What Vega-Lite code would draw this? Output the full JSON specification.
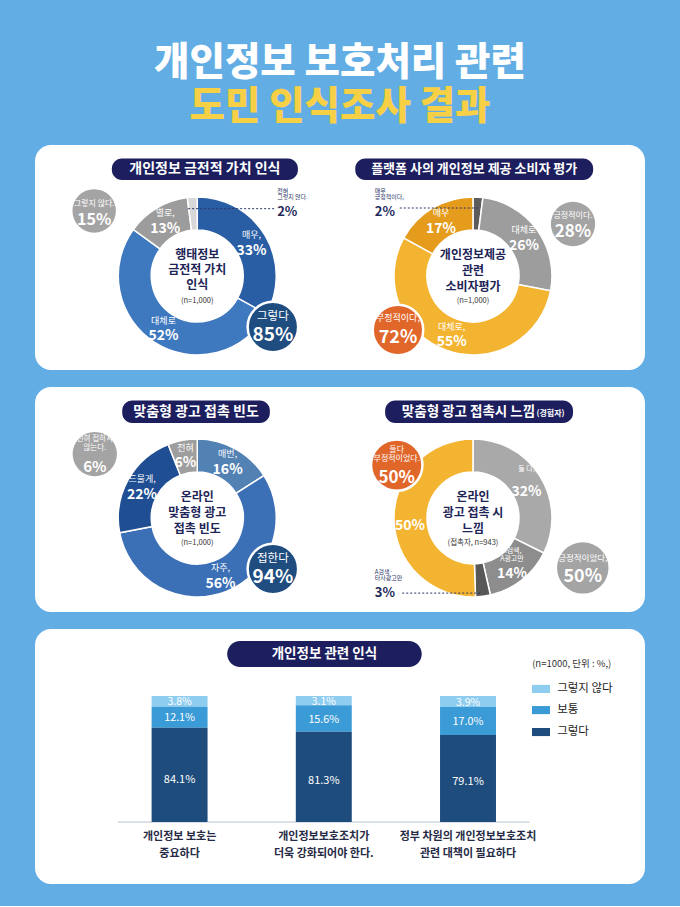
{
  "$schema": "https://vega.github.io/schema/vega-lite/v6.json",
  "background": "#62aee4",
  "padding": {"left": 35, "right": 35, "top": 44, "bottom": 22},
  "spacing": 17,
  "title": {
    "text": "개인정보 보호처리 관련",
    "subtitle": "도민 인식조사 결과",
    "anchor": "middle",
    "font": "Noto Sans CJK KR",
    "fontSize": 38.5,
    "fontWeight": 900,
    "color": "#ffffff",
    "subtitleFont": "Noto Sans CJK KR",
    "subtitleFontSize": 38.5,
    "subtitleFontWeight": 900,
    "subtitleColor": "#f7d046",
    "subtitlePadding": 5,
    "offset": 18
  },
  "config": {
    "view": {"fill": "#ffffff", "stroke": null, "cornerRadius": 16},
    "font": "Noto Sans CJK KR"
  },
  "datasets": {
    "titles": [
      {"panel": "p1", "title": "개인정보 금전적 가치 인식", "sub": ""},
      {"panel": "p2", "title": "플랫폼 사의 개인정보 제공 소비자 평가", "sub": ""},
      {"panel": "p3", "title": "맞춤형 광고 접촉 빈도", "sub": ""},
      {"panel": "p4", "title": "맞춤형 광고 접촉시 느낌", "sub": "(경험자)"},
      {"panel": "p5", "title": "개인정보 관련 인식", "sub": "(n=1000, 단위 : %,)"}
    ],
    "slices": [
      {"chart": "d1", "k": 1, "seg": "매우", "pct": 33, "label": "매우,", "txt": "33%"},
      {"chart": "d1", "k": 2, "seg": "대체로", "pct": 52, "label": "대체로", "txt": "52%"},
      {"chart": "d1", "k": 3, "seg": "별로", "pct": 13, "label": "별로,", "txt": "13%"},
      {"chart": "d1", "k": 4, "seg": "전혀", "pct": 2, "label": "", "txt": ""},
      {"chart": "d2", "k": 1, "seg": "매우 긍정적", "pct": 2, "label": "", "txt": ""},
      {"chart": "d2", "k": 2, "seg": "대체로 긍정적", "pct": 26, "label": "대체로", "txt": "26%"},
      {"chart": "d2", "k": 3, "seg": "대체로 부정적", "pct": 55, "label": "대체로,", "txt": "55%"},
      {"chart": "d2", "k": 4, "seg": "매우 부정적", "pct": 17, "label": "매우", "txt": "17%"},
      {"chart": "d3", "k": 1, "seg": "매번", "pct": 16, "label": "매번,", "txt": "16%"},
      {"chart": "d3", "k": 2, "seg": "자주", "pct": 56, "label": "자주,", "txt": "56%"},
      {"chart": "d3", "k": 3, "seg": "드물게", "pct": 22, "label": "드물게,", "txt": "22%"},
      {"chart": "d3", "k": 4, "seg": "전혀", "pct": 6, "label": "전혀", "txt": "6%"},
      {"chart": "d4", "k": 1, "seg": "둘 다", "pct": 32, "label": "둘 다,", "txt": "32%"},
      {"chart": "d4", "k": 2, "seg": "A검색, A광고만", "pct": 14, "label": "A검색,\nA광고만", "txt": "14%"},
      {"chart": "d4", "k": 3, "seg": "A검색·타사광고만", "pct": 3, "label": "", "txt": ""},
      {"chart": "d4", "k": 4, "seg": "부정적", "pct": 50, "label": "", "txt": "50%"}
    ],
    "centers": [
      {"chart": "d1", "title": "행태정보\n금전적 가치\n인식", "n": "(n=1,000)"},
      {"chart": "d2", "title": "개인정보제공\n관련\n소비자평가", "n": "(n=1,000)"},
      {"chart": "d3", "title": "온라인\n맞춤형 광고\n접촉 빈도", "n": "(n=1,000)"},
      {"chart": "d4", "title": "온라인\n광고 접촉 시\n느낌", "n": "(접촉자, n=943)"}
    ],
    "notes": [
      {"chart": "d1", "label": "전혀\n그렇지 않다.", "txt": "2%"},
      {"chart": "d2", "label": "매우\n긍정적이다,", "txt": "2%"},
      {"chart": "d4", "label": "A검색·\n타사광고만", "txt": "3%"}
    ],
    "bubbles": [
      {"id": "b1", "label": "그렇지 않다.", "txt": "15%"},
      {"id": "b2", "label": "그렇다", "txt": "85%"},
      {"id": "b3", "label": "긍정적이다.", "txt": "28%"},
      {"id": "b4", "label": "부정적이다,", "txt": "72%"},
      {"id": "b5", "label": "전혀 접하지\n않는다.", "txt": "6%"},
      {"id": "b6", "label": "접한다", "txt": "94%"},
      {"id": "b7", "label": "둘다\n부정적이었다.", "txt": "50%"},
      {"id": "b8", "label": "긍정적이었다,", "txt": "50%"}
    ],
    "cats": [
      {"resp": "그렇지 않다"},
      {"resp": "보통"},
      {"resp": "그렇다"}
    ],
    "survey": [
      {"item": "개인정보 보호는\n중요하다", "resp": "그렇지 않다", "pct": 3.8, "txt": "3.8%"},
      {"item": "개인정보 보호는\n중요하다", "resp": "보통", "pct": 12.1, "txt": "12.1%"},
      {"item": "개인정보 보호는\n중요하다", "resp": "그렇다", "pct": 84.1, "txt": "84.1%"},
      {"item": "개인정보보호조치가\n더욱 강화되어야 한다.", "resp": "그렇지 않다", "pct": 3.1, "txt": "3.1%"},
      {"item": "개인정보보호조치가\n더욱 강화되어야 한다.", "resp": "보통", "pct": 15.6, "txt": "15.6%"},
      {"item": "개인정보보호조치가\n더욱 강화되어야 한다.", "resp": "그렇다", "pct": 81.3, "txt": "81.3%"},
      {"item": "정부 차원의 개인정보보호조치\n관련 대책이 필요하다", "resp": "그렇지 않다", "pct": 3.9, "txt": "3.9%"},
      {"item": "정부 차원의 개인정보보호조치\n관련 대책이 필요하다", "resp": "보통", "pct": 17.0, "txt": "17.0%"},
      {"item": "정부 차원의 개인정보보호조치\n관련 대책이 필요하다", "resp": "그렇다", "pct": 79.1, "txt": "79.1%"}
    ]
  },
  "vconcat": [
    {
      "width": 610,
      "height": 225,
      "resolve": {"scale": {"theta": "independent", "color": "independent"}},
      "layer": [
        {
          "data": {"name": "titles"},
          "transform": [{"filter": "datum.panel === 'p1'"}],
          "layer": [
            {"mark": {"type": "rect", "cornerRadius": 10, "color": "#1c1e5e"},
             "encoding": {
               "x": {"datum": 12.6, "type": "quantitative", "scale": {"domain": [0, 100], "nice": false, "zero": false}, "axis": null},
               "x2": {"datum": 43.1},
               "y": {"datum": 94.0, "type": "quantitative", "scale": {"domain": [0, 100], "nice": false, "zero": false}, "axis": null},
               "y2": {"datum": 84.4}}},
            {"mark": {"type": "text", "color": "#ffffff", "fontSize": 14, "fontWeight": "bold"},
             "encoding": {
               "x": {"datum": 27.85, "type": "quantitative", "scale": {"domain": [0, 100], "nice": false, "zero": false}, "axis": null},
               "y": {"datum": 89.2, "type": "quantitative", "scale": {"domain": [0, 100], "nice": false, "zero": false}, "axis": null},
               "text": {"field": "title"}}}
          ]
        },
        {
          "data": {"name": "titles"},
          "transform": [{"filter": "datum.panel === 'p2'"}],
          "layer": [
            {"mark": {"type": "rect", "cornerRadius": 10, "color": "#1c1e5e"},
             "encoding": {
               "x": {"datum": 52.5, "type": "quantitative", "scale": {"domain": [0, 100], "nice": false, "zero": false}, "axis": null},
               "x2": {"datum": 91.5},
               "y": {"datum": 94.0, "type": "quantitative", "scale": {"domain": [0, 100], "nice": false, "zero": false}, "axis": null},
               "y2": {"datum": 84.4}}},
            {"mark": {"type": "text", "color": "#ffffff", "fontSize": 13, "fontWeight": "bold"},
             "encoding": {
               "x": {"datum": 72.0, "type": "quantitative", "scale": {"domain": [0, 100], "nice": false, "zero": false}, "axis": null},
               "y": {"datum": 89.2, "type": "quantitative", "scale": {"domain": [0, 100], "nice": false, "zero": false}, "axis": null},
               "text": {"field": "title"}}}
          ]
        },
        {
          "data": {"name": "slices"},
          "transform": [{"filter": "datum.chart === 'd1'"}],
          "encoding": {
            "x": {"datum": 26.6, "type": "quantitative", "scale": {"domain": [0, 100], "nice": false, "zero": false}, "axis": null},
            "y": {"datum": 41.8, "type": "quantitative", "scale": {"domain": [0, 100], "nice": false, "zero": false}, "axis": null},
            "theta": {"field": "pct", "type": "quantitative", "stack": true},
            "order": {"field": "k", "type": "quantitative"},
            "detail": {"field": "seg", "type": "nominal"}
          },
          "layer": [
            {"mark": {"type": "arc", "innerRadius": 46, "outerRadius": 79, "stroke": "#ffffff", "strokeWidth": 1.5},
             "encoding": {"color": {"field": "seg", "type": "nominal", "scale": {"domain": ["매우", "대체로", "별로", "전혀"], "range": ["#2a5ea4", "#3e78bf", "#9c9c9c", "#d8d8d8"]}, "legend": null}}},
            {"mark": {"type": "text", "radius": 63, "baseline": "middle", "dy": -8.5, "fontSize": 9, "color": "#ffffff"},
             "encoding": {"text": {"field": "label"}}},
            {"mark": {"type": "text", "radius": 63, "baseline": "middle", "dy": 7, "fontSize": 14, "fontWeight": "bold", "color": "#ffffff"},
             "encoding": {"text": {"field": "txt"}}}
          ]
        },
        {
          "data": {"name": "slices"},
          "transform": [{"filter": "datum.chart === 'd2'"}],
          "encoding": {
            "x": {"datum": 71.8, "type": "quantitative", "scale": {"domain": [0, 100], "nice": false, "zero": false}, "axis": null},
            "y": {"datum": 41.8, "type": "quantitative", "scale": {"domain": [0, 100], "nice": false, "zero": false}, "axis": null},
            "theta": {"field": "pct", "type": "quantitative", "stack": true},
            "order": {"field": "k", "type": "quantitative"},
            "detail": {"field": "seg", "type": "nominal"}
          },
          "layer": [
            {"mark": {"type": "arc", "innerRadius": 46, "outerRadius": 79, "stroke": "#ffffff", "strokeWidth": 1.5},
             "encoding": {"color": {"field": "seg", "type": "nominal", "scale": {"domain": ["매우 긍정적", "대체로 긍정적", "대체로 부정적", "매우 부정적"], "range": ["#5c5c5c", "#9d9d9d", "#f3b431", "#e59b1c"]}, "legend": null}}},
            {"mark": {"type": "text", "radius": 63, "baseline": "middle", "dy": -8.5, "fontSize": 9, "color": "#ffffff"},
             "encoding": {"text": {"field": "label"}}},
            {"mark": {"type": "text", "radius": 63, "baseline": "middle", "dy": 7, "fontSize": 14, "fontWeight": "bold", "color": "#ffffff"},
             "encoding": {"text": {"field": "txt"}}}
          ]
        },
        {
          "data": {"name": "centers"},
          "transform": [{"filter": "datum.chart === 'd1'"}],
          "encoding": {
            "x": {"datum": 26.6, "type": "quantitative", "scale": {"domain": [0, 100], "nice": false, "zero": false}, "axis": null},
            "y": {"datum": 41.8, "type": "quantitative", "scale": {"domain": [0, 100], "nice": false, "zero": false}, "axis": null}
          },
          "layer": [
            {"mark": {"type": "text", "fontSize": 12, "fontWeight": "bold", "color": "#1d2456", "lineBreak": "\n", "lineHeight": 15, "baseline": "middle", "dy": -21},
             "encoding": {"text": {"field": "title"}}},
            {"mark": {"type": "text", "fontSize": 7.5, "color": "#333333", "baseline": "middle", "dy": 25},
             "encoding": {"text": {"field": "n"}}}
          ]
        },
        {
          "data": {"name": "centers"},
          "transform": [{"filter": "datum.chart === 'd2'"}],
          "encoding": {
            "x": {"datum": 71.8, "type": "quantitative", "scale": {"domain": [0, 100], "nice": false, "zero": false}, "axis": null},
            "y": {"datum": 41.8, "type": "quantitative", "scale": {"domain": [0, 100], "nice": false, "zero": false}, "axis": null}
          },
          "layer": [
            {"mark": {"type": "text", "fontSize": 12, "fontWeight": "bold", "color": "#1d2456", "lineBreak": "\n", "lineHeight": 16, "baseline": "middle", "dy": -21},
             "encoding": {"text": {"field": "title"}}},
            {"mark": {"type": "text", "fontSize": 7.5, "color": "#333333", "baseline": "middle", "dy": 25},
             "encoding": {"text": {"field": "n"}}}
          ]
        },
        {
          "data": {"name": "notes"},
          "transform": [{"filter": "datum.chart === 'd1'"}],
          "layer": [
            {"mark": {"type": "rule", "color": "#2a3566", "strokeDash": [2, 2], "strokeWidth": 1},
             "encoding": {
               "x": {"datum": 25.1, "type": "quantitative", "scale": {"domain": [0, 100], "nice": false, "zero": false}, "axis": null},
               "x2": {"datum": 39.3},
               "y": {"datum": 71.7, "type": "quantitative", "scale": {"domain": [0, 100], "nice": false, "zero": false}, "axis": null}}},
            {"mark": {"type": "text", "align": "left", "baseline": "middle", "fontSize": 6, "lineHeight": 6.5, "color": "#2a3566", "lineBreak": "\n"},
             "encoding": {
               "x": {"datum": 39.7, "type": "quantitative", "scale": {"domain": [0, 100], "nice": false, "zero": false}, "axis": null},
               "y": {"datum": 79.6, "type": "quantitative", "scale": {"domain": [0, 100], "nice": false, "zero": false}, "axis": null},
               "text": {"field": "label"}}},
            {"mark": {"type": "text", "align": "left", "baseline": "middle", "fontSize": 13, "fontWeight": "bold", "color": "#1e2a5a"},
             "encoding": {
               "x": {"datum": 39.7, "type": "quantitative", "scale": {"domain": [0, 100], "nice": false, "zero": false}, "axis": null},
               "y": {"datum": 70.2, "type": "quantitative", "scale": {"domain": [0, 100], "nice": false, "zero": false}, "axis": null},
               "text": {"field": "txt"}}}
          ]
        },
        {
          "data": {"name": "notes"},
          "transform": [{"filter": "datum.chart === 'd2'"}],
          "layer": [
            {"mark": {"type": "rule", "color": "#2a3566", "strokeDash": [2, 2], "strokeWidth": 1},
             "encoding": {
               "x": {"datum": 59.8, "type": "quantitative", "scale": {"domain": [0, 100], "nice": false, "zero": false}, "axis": null},
               "x2": {"datum": 72.6},
               "y": {"datum": 72.0, "type": "quantitative", "scale": {"domain": [0, 100], "nice": false, "zero": false}, "axis": null}}},
            {"mark": {"type": "text", "align": "left", "baseline": "middle", "fontSize": 6, "lineHeight": 6.5, "color": "#2a3566", "lineBreak": "\n"},
             "encoding": {
               "x": {"datum": 55.7, "type": "quantitative", "scale": {"domain": [0, 100], "nice": false, "zero": false}, "axis": null},
               "y": {"datum": 79.6, "type": "quantitative", "scale": {"domain": [0, 100], "nice": false, "zero": false}, "axis": null},
               "text": {"field": "label"}}},
            {"mark": {"type": "text", "align": "left", "baseline": "middle", "fontSize": 13, "fontWeight": "bold", "color": "#1e2a5a"},
             "encoding": {
               "x": {"datum": 55.7, "type": "quantitative", "scale": {"domain": [0, 100], "nice": false, "zero": false}, "axis": null},
               "y": {"datum": 70.2, "type": "quantitative", "scale": {"domain": [0, 100], "nice": false, "zero": false}, "axis": null},
               "text": {"field": "txt"}}}
          ]
        },
        {
          "data": {"name": "bubbles"},
          "transform": [{"filter": "datum.id === 'b1'"}],
          "encoding": {
            "x": {"datum": 9.7, "type": "quantitative", "scale": {"domain": [0, 100], "nice": false, "zero": false}, "axis": null},
            "y": {"datum": 70.7, "type": "quantitative", "scale": {"domain": [0, 100], "nice": false, "zero": false}, "axis": null}
          },
          "layer": [
            {"mark": {"type": "point", "shape": "circle", "filled": true, "size": 1886, "fill": "#a4a4a4", "opacity": 1, "strokeWidth": 0}},
            {"mark": {"type": "text", "baseline": "middle", "dy": -7, "fontSize": 8, "color": "#ffffff"}, "encoding": {"text": {"field": "label"}}},
            {"mark": {"type": "text", "baseline": "middle", "dy": 9, "fontSize": 16, "fontWeight": "bold", "color": "#ffffff"}, "encoding": {"text": {"field": "txt"}}}
          ]
        },
        {
          "data": {"name": "bubbles"},
          "transform": [{"filter": "datum.id === 'b2'"}],
          "encoding": {
            "x": {"datum": 39.0, "type": "quantitative", "scale": {"domain": [0, 100], "nice": false, "zero": false}, "axis": null},
            "y": {"datum": 19.1, "type": "quantitative", "scale": {"domain": [0, 100], "nice": false, "zero": false}, "axis": null}
          },
          "layer": [
            {"mark": {"type": "point", "shape": "circle", "filled": true, "size": 2552, "fill": "#1f4d80", "stroke": "#ffffff", "strokeWidth": 2.5, "opacity": 1}},
            {"mark": {"type": "text", "baseline": "middle", "dy": -10, "fontSize": 11.5, "color": "#ffffff"}, "encoding": {"text": {"field": "label"}}},
            {"mark": {"type": "text", "baseline": "middle", "dy": 8, "fontSize": 19, "fontWeight": "bold", "color": "#ffffff"}, "encoding": {"text": {"field": "txt"}}}
          ]
        },
        {
          "data": {"name": "bubbles"},
          "transform": [{"filter": "datum.id === 'b3'"}],
          "encoding": {
            "x": {"datum": 88.2, "type": "quantitative", "scale": {"domain": [0, 100], "nice": false, "zero": false}, "axis": null},
            "y": {"datum": 64.9, "type": "quantitative", "scale": {"domain": [0, 100], "nice": false, "zero": false}, "axis": null}
          },
          "layer": [
            {"mark": {"type": "point", "shape": "circle", "filled": true, "size": 1963, "fill": "#a4a4a4", "opacity": 1, "strokeWidth": 0}},
            {"mark": {"type": "text", "baseline": "middle", "dy": -8, "fontSize": 8, "color": "#ffffff"}, "encoding": {"text": {"field": "label"}}},
            {"mark": {"type": "text", "baseline": "middle", "dy": 8, "fontSize": 17, "fontWeight": "bold", "color": "#ffffff"}, "encoding": {"text": {"field": "txt"}}}
          ]
        },
        {
          "data": {"name": "bubbles"},
          "transform": [{"filter": "datum.id === 'b4'"}],
          "encoding": {
            "x": {"datum": 59.5, "type": "quantitative", "scale": {"domain": [0, 100], "nice": false, "zero": false}, "axis": null},
            "y": {"datum": 17.8, "type": "quantitative", "scale": {"domain": [0, 100], "nice": false, "zero": false}, "axis": null}
          },
          "layer": [
            {"mark": {"type": "point", "shape": "circle", "filled": true, "size": 2552, "fill": "#e0662a", "stroke": "#ffffff", "strokeWidth": 2.5, "opacity": 1}},
            {"mark": {"type": "text", "baseline": "middle", "dy": -12, "fontSize": 9, "color": "#ffffff"}, "encoding": {"text": {"field": "label"}}},
            {"mark": {"type": "text", "baseline": "middle", "dy": 8, "fontSize": 18, "fontWeight": "bold", "color": "#ffffff"}, "encoding": {"text": {"field": "txt"}}}
          ]
        }
      ]
    },
    {
      "width": 610,
      "height": 225,
      "resolve": {"scale": {"theta": "independent", "color": "independent"}},
      "layer": [
        {
          "data": {"name": "titles"},
          "transform": [{"filter": "datum.panel === 'p3'"}],
          "layer": [
            {"mark": {"type": "rect", "cornerRadius": 10, "color": "#1c1e5e"},
             "encoding": {
               "x": {"datum": 14.3, "type": "quantitative", "scale": {"domain": [0, 100], "nice": false, "zero": false}, "axis": null},
               "x2": {"datum": 38.5},
               "y": {"datum": 94.0, "type": "quantitative", "scale": {"domain": [0, 100], "nice": false, "zero": false}, "axis": null},
               "y2": {"datum": 84.0}}},
            {"mark": {"type": "text", "color": "#ffffff", "fontSize": 14, "fontWeight": "bold"},
             "encoding": {
               "x": {"datum": 26.4, "type": "quantitative", "scale": {"domain": [0, 100], "nice": false, "zero": false}, "axis": null},
               "y": {"datum": 89.0, "type": "quantitative", "scale": {"domain": [0, 100], "nice": false, "zero": false}, "axis": null},
               "text": {"field": "title"}}}
          ]
        },
        {
          "data": {"name": "titles"},
          "transform": [{"filter": "datum.panel === 'p4'"}],
          "layer": [
            {"mark": {"type": "rect", "cornerRadius": 10, "color": "#1c1e5e"},
             "encoding": {
               "x": {"datum": 57.4, "type": "quantitative", "scale": {"domain": [0, 100], "nice": false, "zero": false}, "axis": null},
               "x2": {"datum": 88.2},
               "y": {"datum": 94.0, "type": "quantitative", "scale": {"domain": [0, 100], "nice": false, "zero": false}, "axis": null},
               "y2": {"datum": 84.0}}},
            {"mark": {"type": "text", "color": "#ffffff", "fontSize": 13.5, "fontWeight": "bold", "align": "right"},
             "encoding": {
               "x": {"datum": 82.0, "type": "quantitative", "scale": {"domain": [0, 100], "nice": false, "zero": false}, "axis": null},
               "y": {"datum": 89.0, "type": "quantitative", "scale": {"domain": [0, 100], "nice": false, "zero": false}, "axis": null},
               "text": {"field": "title"}}},
            {"mark": {"type": "text", "color": "#ffffff", "fontSize": 8, "fontWeight": "bold", "align": "left", "dy": 2},
             "encoding": {
               "x": {"datum": 82.2, "type": "quantitative", "scale": {"domain": [0, 100], "nice": false, "zero": false}, "axis": null},
               "y": {"datum": 89.0, "type": "quantitative", "scale": {"domain": [0, 100], "nice": false, "zero": false}, "axis": null},
               "text": {"field": "sub"}}}
          ]
        },
        {
          "data": {"name": "slices"},
          "transform": [{"filter": "datum.chart === 'd3'"}],
          "encoding": {
            "x": {"datum": 26.6, "type": "quantitative", "scale": {"domain": [0, 100], "nice": false, "zero": false}, "axis": null},
            "y": {"datum": 41.8, "type": "quantitative", "scale": {"domain": [0, 100], "nice": false, "zero": false}, "axis": null},
            "theta": {"field": "pct", "type": "quantitative", "stack": true},
            "order": {"field": "k", "type": "quantitative"},
            "detail": {"field": "seg", "type": "nominal"}
          },
          "layer": [
            {"mark": {"type": "arc", "innerRadius": 46, "outerRadius": 79, "stroke": "#ffffff", "strokeWidth": 1.5},
             "encoding": {"color": {"field": "seg", "type": "nominal", "scale": {"domain": ["매번", "자주", "드물게", "전혀"], "range": ["#5281b3", "#3b6fb6", "#1f4e93", "#9e9e9e"]}, "legend": null}}},
            {"mark": {"type": "text", "radius": 63, "baseline": "middle", "dy": -8.5, "fontSize": 9, "color": "#ffffff"},
             "encoding": {"text": {"field": "label"}}},
            {"mark": {"type": "text", "radius": 63, "baseline": "middle", "dy": 7, "fontSize": 14, "fontWeight": "bold", "color": "#ffffff"},
             "encoding": {"text": {"field": "txt"}}}
          ]
        },
        {
          "data": {"name": "slices"},
          "transform": [{"filter": "datum.chart === 'd4'"}],
          "encoding": {
            "x": {"datum": 71.8, "type": "quantitative", "scale": {"domain": [0, 100], "nice": false, "zero": false}, "axis": null},
            "y": {"datum": 41.8, "type": "quantitative", "scale": {"domain": [0, 100], "nice": false, "zero": false}, "axis": null},
            "theta": {"field": "pct", "type": "quantitative", "stack": true},
            "order": {"field": "k", "type": "quantitative"},
            "detail": {"field": "seg", "type": "nominal"}
          },
          "layer": [
            {"mark": {"type": "arc", "innerRadius": 46, "outerRadius": 79, "stroke": "#ffffff", "strokeWidth": 1.5},
             "encoding": {"color": {"field": "seg", "type": "nominal", "scale": {"domain": ["둘 다", "A검색, A광고만", "A검색·타사광고만", "부정적"], "range": ["#a9a9a9", "#8d8d8d", "#585858", "#f3b431"]}, "legend": null}}},
            {"mark": {"type": "text", "radius": 63, "baseline": "middle", "dy": -16, "fontSize": 7, "lineHeight": 7.5, "color": "#ffffff", "lineBreak": "\n"},
             "encoding": {"text": {"field": "label"}}},
            {"mark": {"type": "text", "radius": 63, "baseline": "middle", "dy": 7, "fontSize": 14, "fontWeight": "bold", "color": "#ffffff"},
             "encoding": {"text": {"field": "txt"}}}
          ]
        },
        {
          "data": {"name": "centers"},
          "transform": [{"filter": "datum.chart === 'd3'"}],
          "encoding": {
            "x": {"datum": 26.6, "type": "quantitative", "scale": {"domain": [0, 100], "nice": false, "zero": false}, "axis": null},
            "y": {"datum": 41.8, "type": "quantitative", "scale": {"domain": [0, 100], "nice": false, "zero": false}, "axis": null}
          },
          "layer": [
            {"mark": {"type": "text", "fontSize": 12, "fontWeight": "bold", "color": "#1d2456", "lineBreak": "\n", "lineHeight": 16, "baseline": "middle", "dy": -21},
             "encoding": {"text": {"field": "title"}}},
            {"mark": {"type": "text", "fontSize": 7.5, "color": "#333333", "baseline": "middle", "dy": 25},
             "encoding": {"text": {"field": "n"}}}
          ]
        },
        {
          "data": {"name": "centers"},
          "transform": [{"filter": "datum.chart === 'd4'"}],
          "encoding": {
            "x": {"datum": 71.8, "type": "quantitative", "scale": {"domain": [0, 100], "nice": false, "zero": false}, "axis": null},
            "y": {"datum": 41.8, "type": "quantitative", "scale": {"domain": [0, 100], "nice": false, "zero": false}, "axis": null}
          },
          "layer": [
            {"mark": {"type": "text", "fontSize": 12, "fontWeight": "bold", "color": "#1d2456", "lineBreak": "\n", "lineHeight": 16, "baseline": "middle", "dy": -21},
             "encoding": {"text": {"field": "title"}}},
            {"mark": {"type": "text", "fontSize": 7.5, "color": "#333333", "baseline": "middle", "dy": 25},
             "encoding": {"text": {"field": "n"}}}
          ]
        },
        {
          "data": {"name": "notes"},
          "transform": [{"filter": "datum.chart === 'd4'"}],
          "layer": [
            {"mark": {"type": "rule", "color": "#2a3566", "strokeDash": [2, 2], "strokeWidth": 1},
             "encoding": {
               "x": {"datum": 60.2, "type": "quantitative", "scale": {"domain": [0, 100], "nice": false, "zero": false}, "axis": null},
               "x2": {"datum": 73.2},
               "y": {"datum": 8.4, "type": "quantitative", "scale": {"domain": [0, 100], "nice": false, "zero": false}, "axis": null}}},
            {"mark": {"type": "text", "align": "left", "baseline": "middle", "fontSize": 6, "lineHeight": 6.5, "color": "#2a3566", "lineBreak": "\n"},
             "encoding": {
               "x": {"datum": 55.7, "type": "quantitative", "scale": {"domain": [0, 100], "nice": false, "zero": false}, "axis": null},
               "y": {"datum": 17.8, "type": "quantitative", "scale": {"domain": [0, 100], "nice": false, "zero": false}, "axis": null},
               "text": {"field": "label"}}},
            {"mark": {"type": "text", "align": "left", "baseline": "middle", "fontSize": 13, "fontWeight": "bold", "color": "#1e2a5a"},
             "encoding": {
               "x": {"datum": 55.7, "type": "quantitative", "scale": {"domain": [0, 100], "nice": false, "zero": false}, "axis": null},
               "y": {"datum": 8.4, "type": "quantitative", "scale": {"domain": [0, 100], "nice": false, "zero": false}, "axis": null},
               "text": {"field": "txt"}}}
          ]
        },
        {
          "data": {"name": "bubbles"},
          "transform": [{"filter": "datum.id === 'b5'"}],
          "encoding": {
            "x": {"datum": 9.8, "type": "quantitative", "scale": {"domain": [0, 100], "nice": false, "zero": false}, "axis": null},
            "y": {"datum": 70.2, "type": "quantitative", "scale": {"domain": [0, 100], "nice": false, "zero": false}, "axis": null}
          },
          "layer": [
            {"mark": {"type": "point", "shape": "circle", "filled": true, "size": 1963, "fill": "#a4a4a4", "opacity": 1, "strokeWidth": 0}},
            {"mark": {"type": "text", "baseline": "middle", "dy": -15, "fontSize": 7.5, "lineHeight": 9, "color": "#ffffff", "lineBreak": "\n"}, "encoding": {"text": {"field": "label"}}},
            {"mark": {"type": "text", "baseline": "middle", "dy": 13, "fontSize": 15, "fontWeight": "bold", "color": "#ffffff"}, "encoding": {"text": {"field": "txt"}}}
          ]
        },
        {
          "data": {"name": "bubbles"},
          "transform": [{"filter": "datum.id === 'b6'"}],
          "encoding": {
            "x": {"datum": 39.0, "type": "quantitative", "scale": {"domain": [0, 100], "nice": false, "zero": false}, "axis": null},
            "y": {"datum": 19.1, "type": "quantitative", "scale": {"domain": [0, 100], "nice": false, "zero": false}, "axis": null}
          },
          "layer": [
            {"mark": {"type": "point", "shape": "circle", "filled": true, "size": 2552, "fill": "#1f4d80", "stroke": "#ffffff", "strokeWidth": 2.5, "opacity": 1}},
            {"mark": {"type": "text", "baseline": "middle", "dy": -10, "fontSize": 11.5, "color": "#ffffff"}, "encoding": {"text": {"field": "label"}}},
            {"mark": {"type": "text", "baseline": "middle", "dy": 8, "fontSize": 19, "fontWeight": "bold", "color": "#ffffff"}, "encoding": {"text": {"field": "txt"}}}
          ]
        },
        {
          "data": {"name": "bubbles"},
          "transform": [{"filter": "datum.id === 'b7'"}],
          "encoding": {
            "x": {"datum": 59.3, "type": "quantitative", "scale": {"domain": [0, 100], "nice": false, "zero": false}, "axis": null},
            "y": {"datum": 65.3, "type": "quantitative", "scale": {"domain": [0, 100], "nice": false, "zero": false}, "axis": null}
          },
          "layer": [
            {"mark": {"type": "point", "shape": "circle", "filled": true, "size": 2642, "fill": "#e0662a", "stroke": "#ffffff", "strokeWidth": 2.5, "opacity": 1}},
            {"mark": {"type": "text", "baseline": "middle", "dy": -15, "fontSize": 8, "lineHeight": 9, "color": "#ffffff", "lineBreak": "\n"}, "encoding": {"text": {"field": "label"}}},
            {"mark": {"type": "text", "baseline": "middle", "dy": 13, "fontSize": 17, "fontWeight": "bold", "color": "#ffffff"}, "encoding": {"text": {"field": "txt"}}}
          ]
        },
        {
          "data": {"name": "bubbles"},
          "transform": [{"filter": "datum.id === 'b8'"}],
          "encoding": {
            "x": {"datum": 89.8, "type": "quantitative", "scale": {"domain": [0, 100], "nice": false, "zero": false}, "axis": null},
            "y": {"datum": 19.6, "type": "quantitative", "scale": {"domain": [0, 100], "nice": false, "zero": false}, "axis": null}
          },
          "layer": [
            {"mark": {"type": "point", "shape": "circle", "filled": true, "size": 2642, "fill": "#a4a4a4", "opacity": 1, "strokeWidth": 0}},
            {"mark": {"type": "text", "baseline": "middle", "dy": -10, "fontSize": 8.5, "color": "#ffffff"}, "encoding": {"text": {"field": "label"}}},
            {"mark": {"type": "text", "baseline": "middle", "dy": 9, "fontSize": 18, "fontWeight": "bold", "color": "#ffffff"}, "encoding": {"text": {"field": "txt"}}}
          ]
        }
      ]
    },
    {
      "width": 610,
      "height": 255,
      "resolve": {"scale": {"x": "independent", "y": "independent"}},
      "layer": [
        {
          "data": {"name": "titles"},
          "transform": [{"filter": "datum.panel === 'p5'"}],
          "layer": [
            {"mark": {"type": "rect", "cornerRadius": 13, "color": "#1c1e5e"},
             "encoding": {
               "x": {"datum": 31.5, "type": "quantitative", "scale": {"domain": [0, 100], "nice": false, "zero": false}, "axis": null},
               "x2": {"datum": 63.4},
               "y": {"datum": 95.3, "type": "quantitative", "scale": {"domain": [0, 100], "nice": false, "zero": false}, "axis": null},
               "y2": {"datum": 85.1}}},
            {"mark": {"type": "text", "color": "#ffffff", "fontSize": 13.5, "fontWeight": "bold"},
             "encoding": {
               "x": {"datum": 47.45, "type": "quantitative", "scale": {"domain": [0, 100], "nice": false, "zero": false}, "axis": null},
               "y": {"datum": 90.2, "type": "quantitative", "scale": {"domain": [0, 100], "nice": false, "zero": false}, "axis": null},
               "text": {"field": "title"}}},
            {"mark": {"type": "text", "color": "#333333", "fontSize": 9.5, "align": "left", "baseline": "middle"},
             "encoding": {
               "x": {"datum": 81.5, "type": "quantitative", "scale": {"domain": [0, 100], "nice": false, "zero": false}, "axis": null},
               "y": {"datum": 86.3, "type": "quantitative", "scale": {"domain": [0, 100], "nice": false, "zero": false}, "axis": null},
               "text": {"field": "sub"}}},
            {"mark": {"type": "rule", "color": "#b8c2ce", "strokeWidth": 1},
             "encoding": {
               "x": {"datum": 13.6, "type": "quantitative", "scale": {"domain": [0, 100], "nice": false, "zero": false}, "axis": null},
               "x2": {"datum": 81.1},
               "y": {"datum": 24.3, "type": "quantitative", "scale": {"domain": [0, 100], "nice": false, "zero": false}, "axis": null}}}
          ]
        },
        {
          "data": {"name": "survey"},
          "mark": {"type": "bar"},
          "encoding": {
            "x": {"field": "item", "type": "nominal", "sort": null, "scale": {"type": "band", "paddingInner": 0.612, "paddingOuter": 0.921, "align": 0.439}, "axis": null},
            "y": {"field": "pct", "type": "quantitative", "stack": "zero", "scale": {"type": "pow", "exponent": 0.75, "domain": [0, 100], "range": [67, 193], "nice": false}, "axis": null},
            "order": {"field": "pct", "type": "quantitative"},
            "color": {"field": "resp", "type": "nominal", "sort": null, "scale": {"domain": ["그렇지 않다", "보통", "그렇다"], "range": ["#8fcdf0", "#3b9bd6", "#1e4c7c"]}, "legend": null}
          }
        },
        {
          "data": {"name": "survey"},
          "mark": {"type": "text", "color": "#ffffff", "baseline": "middle"},
          "encoding": {
            "x": {"field": "item", "type": "nominal", "sort": null, "scale": {"type": "band", "paddingInner": 0.612, "paddingOuter": 0.921, "align": 0.439}, "axis": null},
            "y": {"field": "pct", "type": "quantitative", "stack": "zero", "bandPosition": 0.5, "scale": {"type": "pow", "exponent": 0.75, "domain": [0, 100], "range": [67, 193], "nice": false}, "axis": null},
            "order": {"field": "pct", "type": "quantitative"},
            "detail": {"field": "resp", "type": "nominal"},
            "size": {"field": "resp", "type": "ordinal", "sort": null, "scale": {"domain": ["그렇지 않다", "보통", "그렇다"], "range": [10.5, 11, 16]}, "legend": null},
            "text": {"field": "txt"}
          }
        },
        {
          "data": {"name": "survey"},
          "transform": [{"filter": "datum.resp === '그렇다'"}],
          "mark": {"type": "text", "fontSize": 11, "fontWeight": "bold", "color": "#262a45", "lineBreak": "\n", "lineHeight": 17, "baseline": "middle"},
          "encoding": {
            "x": {"field": "item", "type": "nominal", "sort": null, "scale": {"type": "band", "paddingInner": 0.612, "paddingOuter": 0.921, "align": 0.439}, "axis": null},
            "y": {"datum": 18.4, "type": "quantitative", "scale": {"domain": [0, 100], "nice": false, "zero": false}, "axis": null},
            "text": {"field": "item"}
          }
        },
        {
          "data": {"name": "cats"},
          "transform": [{"filter": "datum.resp === '그렇지 않다'"}],
          "encoding": {
            "y": {"datum": 76.5, "type": "quantitative", "scale": {"domain": [0, 100], "nice": false, "zero": false}, "axis": null},
            "color": {"field": "resp", "type": "nominal", "sort": null, "scale": {"domain": ["그렇지 않다", "보통", "그렇다"], "range": ["#8fcdf0", "#3b9bd6", "#1e4c7c"]}, "legend": null}
          },
          "layer": [
            {"mark": {"type": "point", "shape": "M-1,-0.45H1V0.45H-1Z", "filled": true, "size": 324, "opacity": 1, "strokeWidth": 0},
             "encoding": {"x": {"datum": 82.95, "type": "quantitative", "scale": {"domain": [0, 100], "nice": false, "zero": false}, "axis": null}}},
            {"mark": {"type": "text", "align": "left", "baseline": "middle", "fontSize": 11.5, "color": "#222222"},
             "encoding": {"x": {"datum": 85.6, "type": "quantitative", "scale": {"domain": [0, 100], "nice": false, "zero": false}, "axis": null}, "color": {"value": "#222222"}, "text": {"field": "resp"}}}
          ]
        },
        {
          "data": {"name": "cats"},
          "transform": [{"filter": "datum.resp === '보통'"}],
          "encoding": {
            "y": {"datum": 68.2, "type": "quantitative", "scale": {"domain": [0, 100], "nice": false, "zero": false}, "axis": null},
            "color": {"field": "resp", "type": "nominal", "sort": null, "scale": {"domain": ["그렇지 않다", "보통", "그렇다"], "range": ["#8fcdf0", "#3b9bd6", "#1e4c7c"]}, "legend": null}
          },
          "layer": [
            {"mark": {"type": "point", "shape": "M-1,-0.45H1V0.45H-1Z", "filled": true, "size": 324, "opacity": 1, "strokeWidth": 0},
             "encoding": {"x": {"datum": 82.95, "type": "quantitative", "scale": {"domain": [0, 100], "nice": false, "zero": false}, "axis": null}}},
            {"mark": {"type": "text", "align": "left", "baseline": "middle", "fontSize": 11.5, "color": "#222222"},
             "encoding": {"x": {"datum": 85.6, "type": "quantitative", "scale": {"domain": [0, 100], "nice": false, "zero": false}, "axis": null}, "color": {"value": "#222222"}, "text": {"field": "resp"}}}
          ]
        },
        {
          "data": {"name": "cats"},
          "transform": [{"filter": "datum.resp === '그렇다'"}],
          "encoding": {
            "y": {"datum": 59.6, "type": "quantitative", "scale": {"domain": [0, 100], "nice": false, "zero": false}, "axis": null},
            "color": {"field": "resp", "type": "nominal", "sort": null, "scale": {"domain": ["그렇지 않다", "보통", "그렇다"], "range": ["#8fcdf0", "#3b9bd6", "#1e4c7c"]}, "legend": null}
          },
          "layer": [
            {"mark": {"type": "point", "shape": "M-1,-0.45H1V0.45H-1Z", "filled": true, "size": 324, "opacity": 1, "strokeWidth": 0},
             "encoding": {"x": {"datum": 82.95, "type": "quantitative", "scale": {"domain": [0, 100], "nice": false, "zero": false}, "axis": null}}},
            {"mark": {"type": "text", "align": "left", "baseline": "middle", "fontSize": 11.5, "color": "#222222"},
             "encoding": {"x": {"datum": 85.6, "type": "quantitative", "scale": {"domain": [0, 100], "nice": false, "zero": false}, "axis": null}, "color": {"value": "#222222"}, "text": {"field": "resp"}}}
          ]
        }
      ]
    }
  ]
}
